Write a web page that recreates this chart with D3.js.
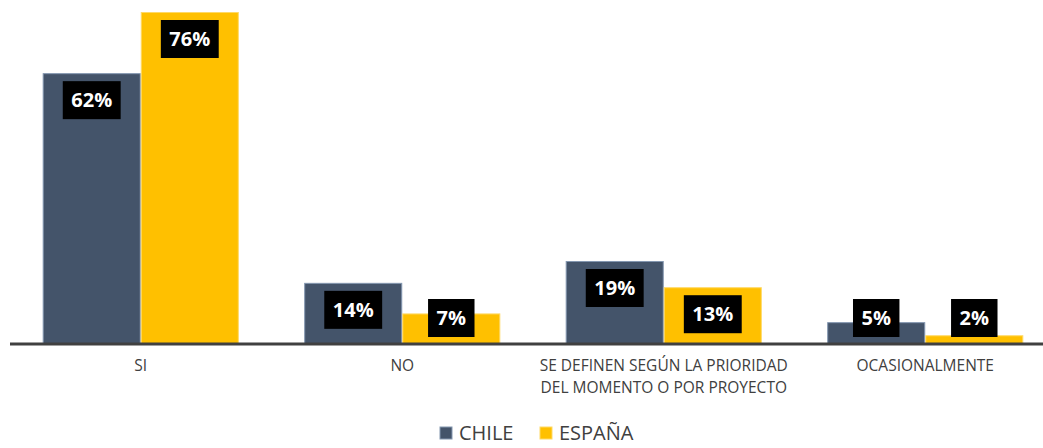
<!DOCTYPE html>
<html><head><meta charset="utf-8">
<script src="https://cdn.jsdelivr.net/npm/d3@7"></script>
<style>body{margin:0;background:#fff}svg{display:block}</style>
</head><body>
<svg id="c" width="1043" height="448"></svg>
<script>
const categories = [["SI"], ["NO"], ["SE DEFINEN SEGÚN LA PRIORIDAD", "DEL MOMENTO O POR PROYECTO"], ["OCASIONALMENTE"]];
const seriesNames = ["CHILE", "ESPAÑA"];
const chile = [62, 14, 19, 5];
const espana = [76, 7, 13, 2];
const colors = ["#44546A", "#FFC000"];
const strokes = ["#8497B0", "#FFD966"];

const svg = d3.select("#c");
const base = 344;
const x = d3.scaleBand().domain(d3.range(categories.length)).range([10, 1056]).paddingInner(0.25).paddingOuter(0.125);
const xs = d3.scaleBand().domain([0, 1]).range([0, x.bandwidth()]);
const y = d3.scaleLinear().domain([0, 76]).range([base, 12]);
const series = [chile, espana];

const g = svg.append("g");
series.forEach((vals, si) => {
  g.selectAll(null).data(vals).enter().append("rect")
    .attr("x", (d, i) => x(i) + xs(si) + 0.5)
    .attr("y", d => y(d) + 0.5)
    .attr("width", xs.bandwidth() - 1)
    .attr("height", d => base - y(d))
    .attr("fill", colors[si])
    .attr("stroke", strokes[si]).attr("stroke-width", 1);
});

// axis
const axis = d3.axisBottom(x).tickSize(0).tickFormat("");
const ax = svg.append("g").attr("transform", `translate(0,${base})`).call(axis);
ax.select(".domain").remove();
svg.append("line").attr("x1", 10).attr("x2", 1043).attr("y1", base).attr("y2", base)
  .attr("stroke", "#404040").attr("stroke-width", 3);

categories.forEach((lines, i) => {
  const t = svg.append("text").attr("x", x(i) + x.bandwidth() / 2).attr("y", 371)
    .attr("text-anchor", "middle").attr("fill", "#404040")
    .attr("font-family", "'Open Sans', sans-serif").attr("font-size", 15.5);
  lines.forEach((l, k) => t.append("tspan").attr("x", x(i) + x.bandwidth() / 2).attr("dy", k ? 21.5 : 0).text(l));
});

// labels
series.forEach((vals, si) => {
  vals.forEach((v, i) => {
    const cx = x(i) + xs(si) + xs.bandwidth() / 2;
    const cy = Math.min(y(v) + 27, 318);
    const txt = v + "%";
    const t = svg.append("text").attr("x", cx).attr("y", cy).attr("dy", "0.36em")
      .attr("text-anchor", "middle").attr("fill", "#fff").attr("font-weight", "bold")
      .attr("font-family", "'Open Sans', sans-serif").attr("font-size", 20).text(txt);
    const w = t.node().getComputedTextLength();
    svg.insert("rect", () => t.node()).attr("x", cx - w / 2 - 8.5).attr("y", cy - 19)
      .attr("width", w + 17).attr("height", 38).attr("fill", "#000");
  });
});

// legend
const legX = [440, 540];
seriesNames.forEach((n, i) => {
  svg.append("rect").attr("x", legX[i]).attr("y", 427).attr("width", 12).attr("height", 12)
    .attr("fill", colors[i]).attr("stroke", strokes[i]);
  svg.append("text").attr("x", legX[i] + 19).attr("y", 440).attr("fill", "#404040")
    .attr("font-family", "'Open Sans', sans-serif").attr("font-size", 20).text(n);
});
</script>
</body></html>
